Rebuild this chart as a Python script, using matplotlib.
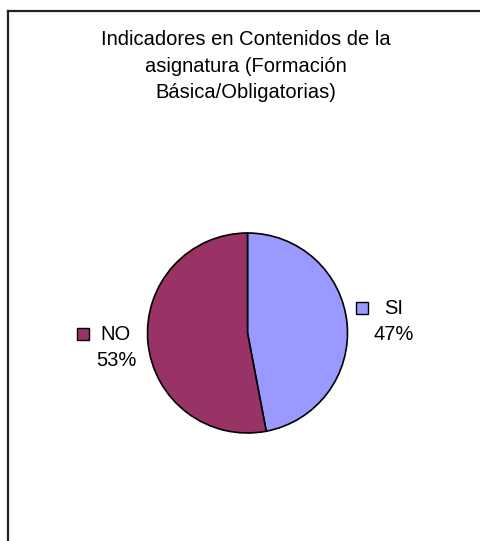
import matplotlib
matplotlib.use("Agg")
import matplotlib.pyplot as plt
from matplotlib.patches import Rectangle
from matplotlib.lines import Line2D

plt.rcParams['font.family'] = ['Liberation Sans', 'DejaVu Sans']

# data
labels = ['SI', 'NO']
values = [47, 53]
colors = ['#9999FF', '#993366']
title = 'Indicadores en Contenidos de la\nasignatura (Formación\nBásica/Obligatorias)'

W, H = 480, 541
fig = plt.figure(figsize=(W / 100, H / 100), dpi=100)


def fx(px):
    return px / W


def fy(py):
    return 1 - py / H


# chart frame (only left and top edges fall inside the picture)
fig.add_artist(Line2D([fx(7.5), fx(7.5)], [fy(11), fy(H + 5)], color='#222222', lw=1.6,
                      transform=fig.transFigure))
fig.add_artist(Line2D([fx(7.5), fx(W + 5)], [fy(11), fy(11)], color='#222222', lw=1.6,
                      transform=fig.transFigure))

fig.text(fx(246), fy(66), title, ha='center', va='center', fontsize=14.5, linespacing=1.48)

# pie
cx, cy, r = 247.5, 333, 101
ax = fig.add_axes([fx(cx - r), fy(cy + r), (2 * r) / W, (2 * r) / H])
ax.pie(values, colors=colors, startangle=90, counterclock=False,
       wedgeprops=dict(edgecolor='black', linewidth=1.2))
ax.set_xlim(-1.01, 1.01)
ax.set_ylim(-1.01, 1.01)
ax.axis('off')

# data labels with legend keys
label_pos = {'SI': (394, 308, 362), 'NO': (116, 334, 83)}
for lab, val, col in zip(labels, values, colors):
    tx, ty, sx = label_pos[lab]
    fig.text(fx(tx), fy(ty), lab, ha='center', va='center', fontsize=14.5)
    fig.text(fx(tx), fy(ty + 26), f'{val}%', ha='center', va='center', fontsize=14.5)
    fig.add_artist(Rectangle((fx(sx - 6), fy(ty + 6)), fx(12), 12 / H, facecolor=col,
                             edgecolor='black', lw=1.0, transform=fig.transFigure))

fig.savefig('out.png', dpi=100, facecolor='white')
